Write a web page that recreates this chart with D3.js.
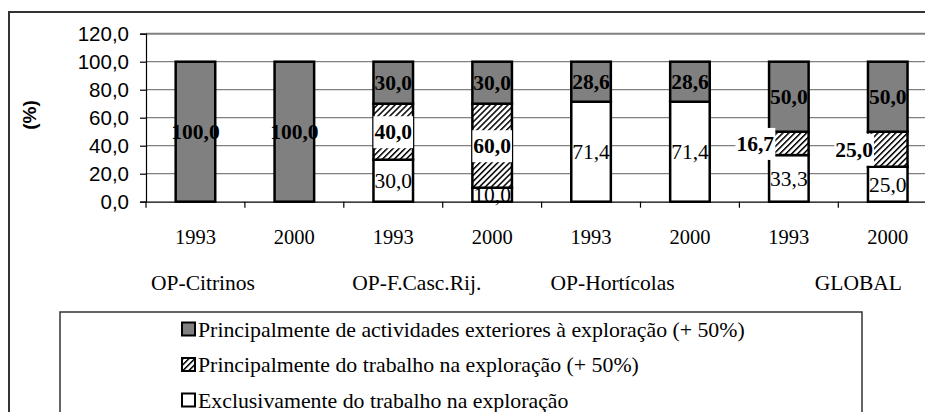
<!DOCTYPE html>
<html>
<head>
<meta charset="utf-8">
<script src="https://cdn.jsdelivr.net/npm/d3@7"></script>
<style>
  body { margin: 0; background: #fff; }
  svg { display: block; }
</style>
</head>
<body>
<div id="content"></div>
<script>
/* chart data */
const GROUPS = ["OP-Citrinos", "OP-F.Casc.Rij.", "OP-Hortícolas", "GLOBAL"];
const YEARS = ["1993", "2000"];
// one entry per bar, in drawing order (group x year)
const EXCLUSIVO = [0, 0, 30.0, 10.0, 71.4, 71.4, 33.3, 25.0];
const PRINCIPAL_TRAB = [0, 0, 40.0, 60.0, 0, 0, 16.7, 25.0];
const PRINCIPAL_EXT = [100.0, 100.0, 30.0, 30.0, 28.6, 28.6, 50.0, 50.0];
const Y_TICKS = [0, 20, 40, 60, 80, 100, 120];
const LEGEND = [
    "Principalmente de actividades exteriores à exploração (+ 50%)",
    "Principalmente do trabalho na exploração (+ 50%)",
    "Exclusivamente do trabalho na exploração"
];

const WIDTH = 925;
const HEIGHT = 412;
const PLOT = {left: 146, top: 33.7, bottom: 201.7, step: 98.9};
const SERIF = "'Liberation Serif', 'Times New Roman', serif";
const SANS = "'Liberation Sans', Arial, sans-serif";

const fmt = (v) => v.toFixed(1).replace(".", ",");

window.onload = () => {
    buildChart();
}

function buildChart() {
    const svg = d3.select("#content").append("svg")
        .attr("width", WIDTH).attr("height", HEIGHT);

    // hatch pattern for the middle series
    const defs = svg.append("defs");
    const pat = defs.append("pattern")
        .attr("id", "hatch")
        .attr("patternUnits", "userSpaceOnUse")
        .attr("width", 4.2).attr("height", 4.2)
        .attr("patternTransform", "rotate(45)");
    pat.append("rect").attr("width", 4.2).attr("height", 4.2).attr("fill", "#fff");
    pat.append("rect").attr("x", 0).attr("width", 1.5).attr("height", 4.2).attr("fill", "#000");

    // outer chart border
    svg.append("rect")
        .attr("x", 9).attr("y", 12)
        .attr("width", 1000).attr("height", 500)
        .attr("fill", "none").attr("stroke", "#333").attr("stroke-width", 2);

    const bars = [];
    GROUPS.forEach((g, gi) => YEARS.forEach((yr, yi) => bars.push({key: gi + "-" + yi, group: g, year: yr, i: gi * 2 + yi})));

    const x = d3.scaleBand()
        .domain(bars.map((d) => d.key))
        .range([PLOT.left, PLOT.left + PLOT.step * bars.length])
        .padding(0);
    const y = d3.scaleLinear().domain([0, 120]).range([PLOT.bottom, PLOT.top]);

    const barW = x.bandwidth() * 0.4;
    const barX = (d) => x(d.key) + (x.bandwidth() - barW) / 2;

    // gridlines
    svg.append("g")
        .selectAll("line")
        .data(Y_TICKS.filter((t) => t > 0))
        .enter()
        .append("line")
        .attr("x1", PLOT.left).attr("x2", WIDTH + 20)
        .attr("y1", (d) => y(d)).attr("y2", (d) => y(d))
        .attr("stroke", "#808080")
        .attr("stroke-width", (d) => d === 120 ? 2 : 1.2);

    // stacked series
    const stackData = bars.map((d) => ({
        key: d.key,
        excl: EXCLUSIVO[d.i],
        trab: PRINCIPAL_TRAB[d.i],
        ext: PRINCIPAL_EXT[d.i]
    }));
    const series = d3.stack().keys(["excl", "trab", "ext"])(stackData);
    const fills = {excl: "#fff", trab: "url(#hatch)", ext: "#808080"};

    series.forEach((s) => {
        svg.append("g")
            .selectAll("rect")
            .data(s.filter((p) => p[1] - p[0] > 0))
            .enter()
            .append("rect")
            .attr("x", (p) => barX({key: p.data.key}))
            .attr("width", barW)
            .attr("y", (p) => y(p[1]))
            .attr("height", (p) => y(p[0]) - y(p[1]))
            .attr("fill", fills[s.key])
            .attr("stroke", "#000")
            .attr("stroke-width", 2.5);
    });

    // axes
    const yAxis = d3.axisLeft(y).tickValues(Y_TICKS).tickSize(6).tickFormat((d) => fmt(d));
    const gy = svg.append("g").attr("transform", "translate(" + PLOT.left + ",0)").call(yAxis);
    gy.select(".domain").attr("stroke", "#000").attr("stroke-width", 1.2);
    gy.selectAll(".tick line").attr("stroke", "#000").attr("stroke-width", 1.2);
    gy.selectAll(".tick text")
        .attr("x", -17)
        .attr("font-family", SANS).attr("font-size", 20.5)
        .attr("fill", "#000");

    const xAxis = d3.axisBottom(x).tickSize(0).tickFormat("");
    const gx = svg.append("g").attr("transform", "translate(0," + PLOT.bottom + ")").call(xAxis);
    gx.select(".domain").attr("stroke", "#000").attr("stroke-width", 1.2);
    gx.selectAll(".tick").remove();
    // category boundary ticks
    gx.selectAll("line.sep")
        .data(bars.map((d) => x(d.key)))
        .enter()
        .append("line")
        .attr("class", "sep")
        .attr("x1", (d) => d).attr("x2", (d) => d)
        .attr("y1", 0).attr("y2", 6)
        .attr("stroke", "#000").attr("stroke-width", 1.2);

    // year labels
    svg.append("g")
        .selectAll("text")
        .data(bars)
        .enter()
        .append("text")
        .attr("x", (d) => x(d.key) + x.bandwidth() / 2)
        .attr("y", 244)
        .attr("text-anchor", "middle")
        .attr("font-family", SERIF).attr("font-size", 20.5)
        .text((d) => d.year);

    // group labels
    const groupShift = [57, 73, 71, 119];
    svg.append("g")
        .selectAll("text")
        .data(GROUPS)
        .enter()
        .append("text")
        .attr("x", (d, i) => x(bars[i * 2].key) + groupShift[i])
        .attr("y", 290)
        .attr("text-anchor", "middle")
        .attr("font-family", SERIF).attr("font-size", 21.5)
        .text((d) => d);

    // y title
    svg.append("text")
        .attr("transform", "translate(36,115) rotate(-90)")
        .attr("text-anchor", "middle")
        .attr("font-family", SANS).attr("font-size", 19).attr("font-weight", "bold")
        .text("(%)");

    // data labels
    const labels = [];
    series.forEach((s) => {
        s.forEach((p, i) => {
            const v = p[1] - p[0];
            if (v <= 0) return;
            labels.push({key: p.data.key, series: s.key, v: v, mid: (p[0] + p[1]) / 2, i: i});
        });
    });
    const lg = svg.append("g");
    labels.forEach((l) => {
        const cx = x(l.key) + x.bandwidth() / 2;
        let tx = cx, anchor = "middle";
        const bold = l.series !== "excl";
        let yy = y(l.mid);
        // small trabalho segments: label sits left of the bar
        const outside = l.series === "trab" && l.v < 30;
        if (outside) {
            tx = barX({key: l.key}) + 5;
            anchor = "end";
        }
        const t = lg.append("text")
            .attr("x", tx).attr("y", yy)
            .attr("dy", "0.35em")
            .attr("text-anchor", anchor)
            .attr("font-family", SERIF).attr("font-size", 21.5)
            .attr("font-weight", bold ? "bold" : "normal")
            .attr("fill", "#000")
            .text(fmt(l.v));
        if (l.series === "trab") {
            const bb = t.node().getBBox();
            lg.insert("rect", function() { return t.node(); })
                .attr("x", bb.x - 1).attr("y", bb.y - 4)
                .attr("width", bb.width + 2).attr("height", bb.height + 8)
                .attr("fill", "#fff");
        }
    });

    // legend
    const legend = svg.append("g");
    legend.append("rect")
        .attr("x", 60).attr("y", 312)
        .attr("width", 802).attr("height", 200)
        .attr("fill", "#fff").attr("stroke", "#333").attr("stroke-width", 1.5);
    const legFills = ["#808080", "url(#hatch)", "#fff"];
    const legItems = legend.selectAll("g.item")
        .data(LEGEND)
        .enter()
        .append("g")
        .attr("class", "item")
        .attr("transform", (d, i) => "translate(182," + (329 + i * 35.5) + ")");
    legItems.append("rect")
        .attr("x", 0).attr("y", -6.5)
        .attr("width", 13).attr("height", 13)
        .attr("fill", (d, i) => legFills[i])
        .attr("stroke", "#000").attr("stroke-width", 2);
    legItems.append("text")
        .attr("x", 16).attr("dy", "0.35em")
        .attr("font-family", SERIF).attr("font-size", 21.8)
        .text((d) => d);
}
</script>
</body>
</html>
